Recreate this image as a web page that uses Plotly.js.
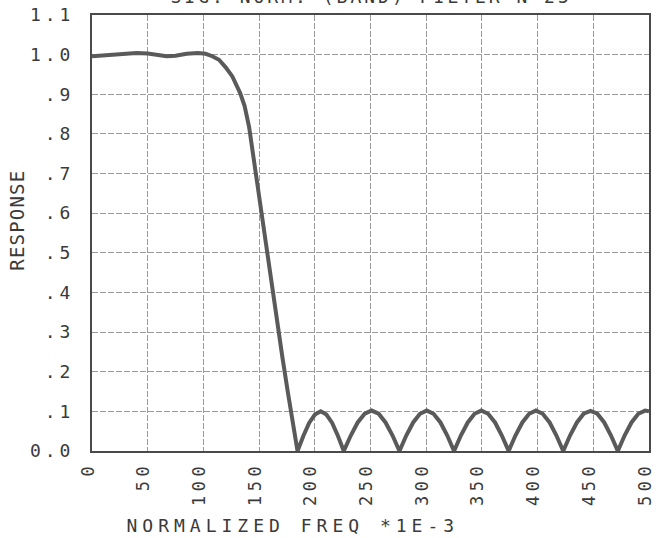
<!DOCTYPE html>
<html>
<head>
<meta charset="utf-8">
<script src="https://cdn.plot.ly/plotly-3.0.1.min.js"></script>
<style>
  html, body { margin: 0; padding: 0; background: #fff; }
  #chart { width: 656px; height: 538px; }
  g.xtick text { letter-spacing: 4.5px; }
  g.ytick text { letter-spacing: 4px; }
  g.annotation[data-index="0"] text { letter-spacing: 3px; }
  g.annotation[data-index="1"] text { letter-spacing: 5px; }
  g.annotation[data-index="2"] text { letter-spacing: 1.2px; }
</style>
</head>
<body>
<div id="chart"></div>
<script>
// ---- data ----
const chartTitle = "SIG. NORM. (BAND) FILTER N=25";
const xTitle = "NORMALIZED FREQ *1E-3";
const yTitle = "RESPONSE";

const xTickVals = [0, 50, 100, 150, 200, 250, 300, 350, 400, 450, 500];
const xTickText = ["0", "50", "100", "150", "200", "250", "300", "350", "400", "450", "500"];
const yTickVals = [0, 0.1, 0.2, 0.3, 0.4, 0.5, 0.6, 0.7, 0.8, 0.9, 1.0, 1.1];
const yTickText = ["0.0", ".1", ".2", ".3", ".4", ".5", ".6", ".7", ".8", ".9", "1.0", "1.1"];

// passband + transition
const freqPass = [0, 10, 20, 30, 40, 50, 60, 67, 75, 85, 95, 102, 108, 114, 120, 126, 133, 137, 141, 146, 151, 156, 161, 166, 171, 176, 180.5];
const respPass = [0.996, 0.998, 1.001, 1.003, 1.004, 1.003, 0.999, 0.996, 0.997, 1.002, 1.004, 1.002, 0.996, 0.987, 0.968, 0.945, 0.903, 0.870, 0.818, 0.720, 0.610, 0.520, 0.420, 0.330, 0.235, 0.145, 0.065];

// stopband ripples (rectified)
const freqStop = [184.5, 189.7, 194.9, 200.1, 205.3, 210.4, 215.6, 220.8,
                  226, 232.3, 238.5, 244.8, 251, 257.3, 263.5, 269.8,
                  276, 282.1, 288.3, 294.4, 300.5, 306.6, 312.8, 318.9,
                  325, 331.1, 337.3, 343.4, 349.5, 355.6, 361.8, 367.9,
                  374, 380.1, 386.3, 392.4, 398.5, 404.6, 410.8, 416.9,
                  423, 429.1, 435.3, 441.4, 447.5, 453.6, 459.8, 465.9,
                  472, 478.1, 484.3, 490.4, 496.5, 500];
const respStop = [0, 0.038, 0.071, 0.092, 0.100, 0.092, 0.071, 0.038,
                  0, 0.039, 0.072, 0.094, 0.102, 0.094, 0.072, 0.039,
                  0, 0.039, 0.072, 0.094, 0.102, 0.094, 0.072, 0.039,
                  0, 0.039, 0.072, 0.094, 0.102, 0.094, 0.072, 0.039,
                  0, 0.039, 0.072, 0.094, 0.102, 0.094, 0.072, 0.039,
                  0, 0.039, 0.072, 0.094, 0.101, 0.094, 0.072, 0.039,
                  0, 0.039, 0.072, 0.094, 0.102, 0.100];

const freq = freqPass.concat(freqStop);
const resp = respPass.concat(respStop);

const FONT = '"DejaVu Sans Mono", "Liberation Mono", monospace';
const INK = '#3a3a3a';

const trace = {
  type: 'scatter',
  mode: 'lines',
  x: freq,
  y: resp,
  line: { color: '#5a5a5a', width: 4 },
  hoverinfo: 'skip'
};

const layout = {
  width: 656,
  height: 538,
  margin: { l: 92, r: 7, t: 15, b: 87 },
  paper_bgcolor: '#ffffff',
  plot_bgcolor: '#ffffff',
  showlegend: false,
  font: { family: FONT, color: INK, size: 18 },
  xaxis: {
    range: [0, 500],
    tickvals: xTickVals,
    ticktext: xTickText,
    tickangle: -90,
    ticks: '',
    ticklabelstandoff: 2,
    ticklabelshift: -4,
    ticklabeloverflow: 'allow',
    tickfont: { family: FONT, size: 17, color: INK },
    showgrid: true,
    gridcolor: '#9a9a9a',
    gridwidth: 1,
    griddash: '6px,2px',
    showline: true,
    linecolor: '#4a4a4a',
    linewidth: 2,
    mirror: true,
    zeroline: false,
    fixedrange: true
  },
  yaxis: {
    range: [0, 1.1],
    tickvals: yTickVals,
    ticktext: yTickText,
    ticks: '',
    ticklabelstandoff: 12,
    ticklabeloverflow: 'allow',
    tickfont: { family: FONT, size: 18, color: INK },
    showgrid: true,
    gridcolor: '#9a9a9a',
    gridwidth: 1,
    griddash: '6px,2px',
    showline: true,
    linecolor: '#4a4a4a',
    linewidth: 2,
    mirror: true,
    zeroline: false,
    fixedrange: true
  },
  annotations: [
    {
      text: chartTitle,
      xref: 'paper', yref: 'paper',
      x: 0.5, y: 1, xanchor: 'center', yanchor: 'bottom',
      yshift: 6, showarrow: false,
      font: { family: FONT, size: 18, color: INK }
    },
    {
      text: xTitle,
      xref: 'paper', yref: 'paper',
      x: 0.36, y: 0, xanchor: 'center', yanchor: 'top',
      yshift: -62, showarrow: false,
      font: { family: FONT, size: 18, color: INK }
    },
    {
      text: yTitle,
      xref: 'paper', yref: 'paper',
      x: 0, y: 0.53, xanchor: 'center', yanchor: 'middle',
      xshift: -75, textangle: -90, showarrow: false,
      font: { family: FONT, size: 19, color: INK }
    }
  ]
};

Plotly.newPlot('chart', [trace], layout, { displayModeBar: false, staticPlot: true });
</script>
</body>
</html>
